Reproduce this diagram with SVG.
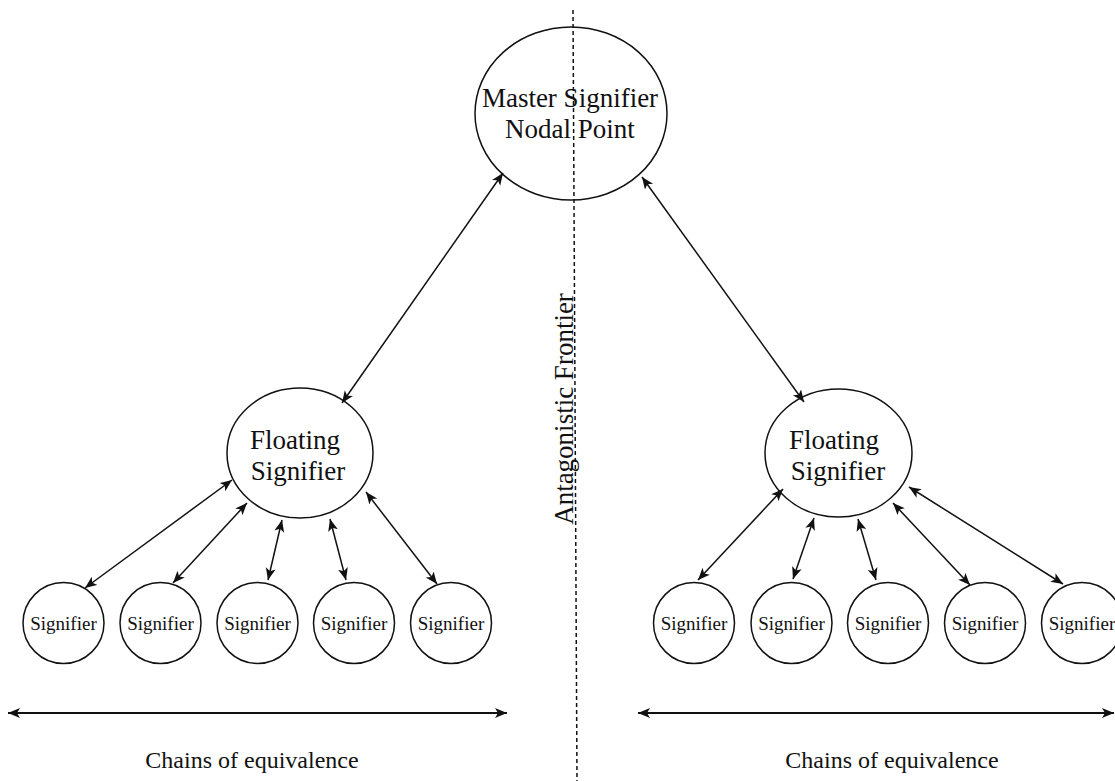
<svg xmlns="http://www.w3.org/2000/svg" width="1115" height="781" viewBox="0 0 1115 781">
<style>
.node{fill:#fff;stroke:#111;stroke-width:1.5}
.t{font-family:"Liberation Serif","Times New Roman",serif;fill:#111;text-anchor:middle}
.big{font-size:27px}
.small{font-size:19px}
.conn line{stroke:#111;stroke-width:1.5;marker-start:url(#ah);marker-end:url(#ah)}
.chain{stroke:#111;stroke-width:2;marker-start:url(#ah2);marker-end:url(#ah2)}
</style>
<defs>
<marker id="ah" markerUnits="userSpaceOnUse" markerWidth="14" markerHeight="12" refX="12" refY="5" orient="auto-start-reverse" viewBox="0 0 14 12">
<path d="M0,0 L12,5 L0,10 L3,5 z" fill="#111"/>
</marker>
<marker id="ah2" markerUnits="userSpaceOnUse" markerWidth="14" markerHeight="12" refX="12" refY="5" orient="auto-start-reverse" viewBox="0 0 14 12">
<path d="M0,0 L12,5 L0,10 L3,5 z" fill="#111"/>
</marker>
</defs>
<rect width="1115" height="781" fill="#fff"/>

<g id="master">
<ellipse class="node" cx="571" cy="113.5" rx="96" ry="86.5"/>
<text class="t big" x="570" y="107">Master Signifier</text>
<text class="t big" x="570" y="138">Nodal Point</text>
</g>

<line id="frontier-line" x1="573" y1="10" x2="577" y2="781" stroke="#111" stroke-width="1.5" stroke-dasharray="4 3"/>
<text id="frontier-label" class="t big" transform="translate(573,409) rotate(-90)">Antagonistic Frontier</text>

<g id="floating-left">
<ellipse class="node" cx="300" cy="453" rx="73" ry="65"/>
<text class="t big" x="295" y="449">Floating</text>
<text class="t big" x="298" y="480">Signifier</text>
</g>
<g id="floating-right">
<ellipse class="node" cx="838.5" cy="453" rx="73.5" ry="64"/>
<text class="t big" x="834" y="449">Floating</text>
<text class="t big" x="838" y="480">Signifier</text>
</g>

<g id="sig-l1"><circle class="node" cx="63.5" cy="623" r="40.5"/><text class="t small" x="63.5" y="630">Signifier</text></g>
<g id="sig-l2"><circle class="node" cx="160.5" cy="623" r="40.5"/><text class="t small" x="160.5" y="630">Signifier</text></g>
<g id="sig-l3"><circle class="node" cx="257.5" cy="623" r="40.5"/><text class="t small" x="257.5" y="630">Signifier</text></g>
<g id="sig-l4"><circle class="node" cx="354" cy="623" r="40.5"/><text class="t small" x="354" y="630">Signifier</text></g>
<g id="sig-l5"><circle class="node" cx="451" cy="623" r="40.5"/><text class="t small" x="451" y="630">Signifier</text></g>

<g id="sig-r1"><circle class="node" cx="694" cy="623" r="40.5"/><text class="t small" x="694" y="630">Signifier</text></g>
<g id="sig-r2"><circle class="node" cx="791.5" cy="623" r="40.5"/><text class="t small" x="791.5" y="630">Signifier</text></g>
<g id="sig-r3"><circle class="node" cx="888" cy="623" r="40.5"/><text class="t small" x="888" y="630">Signifier</text></g>
<g id="sig-r4"><circle class="node" cx="985" cy="623" r="40.5"/><text class="t small" x="985" y="630">Signifier</text></g>
<g id="sig-r5"><circle class="node" cx="1082" cy="623" r="40.5"/><text class="t small" x="1082" y="630">Signifier</text></g>

<g id="connectors" class="conn">
<line x1="503" y1="173" x2="342" y2="403"/>
<line x1="642" y1="177" x2="804" y2="402"/>
<line x1="232" y1="480" x2="85" y2="588"/>
<line x1="247" y1="503" x2="173" y2="583"/>
<line x1="282" y1="520" x2="268" y2="580"/>
<line x1="330" y1="519" x2="346" y2="580"/>
<line x1="366" y1="492" x2="437" y2="584"/>
<line x1="783" y1="489" x2="698" y2="580"/>
<line x1="814" y1="518" x2="793" y2="579"/>
<line x1="858" y1="519" x2="876" y2="580"/>
<line x1="893" y1="503" x2="970" y2="585"/>
<line x1="909" y1="487" x2="1063" y2="584"/>
</g>

<g id="chains">
<line class="chain" x1="8" y1="713" x2="507" y2="713"/>
<line class="chain" x1="638" y1="713" x2="1114" y2="713"/>
<text class="t" font-size="24" x="252" y="768">Chains of equivalence</text>
<text class="t" font-size="24" x="892" y="768">Chains of equivalence</text>
</g>
</svg>
